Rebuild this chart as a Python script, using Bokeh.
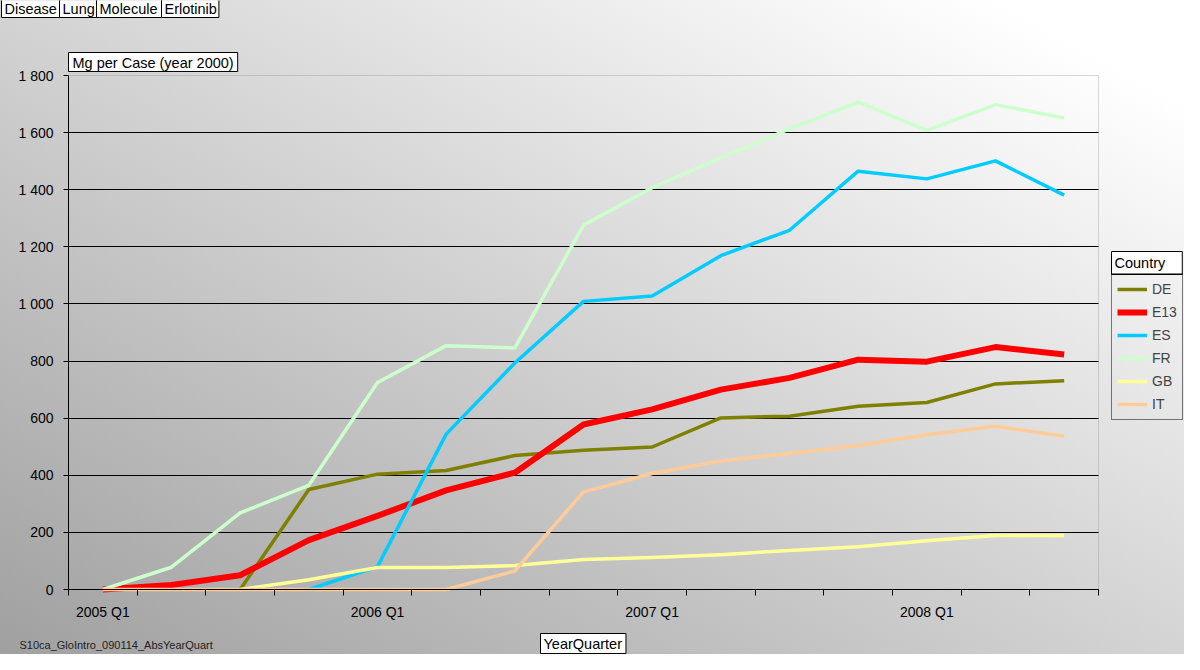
import numpy as np
from bokeh.plotting import figure
from bokeh.models import (ColumnDataSource, FixedTicker, Legend, LegendItem,
                          Label, Range1d, LinearAxis, Grid, BoxAnnotation)
from bokeh.embed import file_html
from bokeh.resources import INLINE

nan = float("nan")

# ---------------- data ----------------
quarters = ["2005 Q1", "2005 Q2", "2005 Q3", "2005 Q4",
            "2006 Q1", "2006 Q2", "2006 Q3", "2006 Q4",
            "2007 Q1", "2007 Q2", "2007 Q3", "2007 Q4",
            "2008 Q1", "2008 Q2", "2008 Q3"]

DE = [nan, nan, 0, 350, 404, 417, 469, 488, 499, 601, 607, 642, 655, 720, 731]
E13 = [0, 16, 50, 173, 258, 347, 409, 578, 631, 700, 741, 805, 798, 849, 823]
ES = [nan, nan, nan, 0, 80, 544, 793, 1009, 1028, 1169, 1258, 1465, 1438, 1501, 1381]
FR = [0, 78, 268, 365, 725, 854, 846, 1276, 1407, 1512, 1613, 1707, 1608, 1698, 1651]
GB = [nan, nan, 0, 34, 77, 77, 84, 105, 112, 122, 137, 150, 171, 189, 189]
IT = [0, 0, 0, 0, 0, 0, 65, 342, 406, 450, 476, 504, 542, 572, 537]

series_names = ["DE", "E13", "ES", "FR", "GB", "IT"]
series_values = [DE, E13, ES, FR, GB, IT]

y_ticks = [0, 200, 400, 600, 800, 1000, 1200, 1400, 1600, 1800]
y_tick_labels = ["0", "200", "400", "600", "800", "1 000", "1 200",
                 "1 400", "1 600", "1 800"]

filter_labels = ["Disease", "Lung", "Molecule", "Erlotinib"]
y_title = "Mg per Case (year 2000)"
x_title = "YearQuarter"
legend_title = "Country"
footnote = "S10ca_GloIntro_090114_AbsYearQuart"

# ---------------- styles / layout ----------------
series_colors = {"DE": "#808000", "E13": "#FF0000", "ES": "#00CCFF",
                 "FR": "#CCFFCC", "GB": "#FFFF99", "IT": "#FFCC99"}
series_widths = {"DE": 3.5, "E13": 6, "ES": 3.5, "FR": 3.5, "GB": 3.5, "IT": 3.5}
FONT = "Liberation Sans"

W, H = 1184, 654          # figure size
OX, OY = 8, 8             # page offset of figure
PL, PR, PT, PB = 76, 1106, 83, 597   # plot area on the page (px)
n = len(quarters)
YMAX = y_ticks[-1]


def dx(page_x):
    return -0.5 + (page_x - PL) * n / (PR - PL)


def dy(page_y):
    return (PB - page_y) * YMAX / (PB - PT)


p = figure(width=W, height=H, output_backend="svg", toolbar_location=None,
           tools="", x_axis_location=None, y_axis_location=None,
           x_range=Range1d(dx(OX), dx(OX + W)),
           y_range=Range1d(dy(OY + H), dy(OY)),
           min_border=0, min_border_left=0, min_border_right=0,
           min_border_top=0, min_border_bottom=0)
p.background_fill_color = None
p.border_fill_color = None
p.outline_line_color = None
p.styles = {"background": "linear-gradient(to top right, #a0a0a0 0%, #ffffff 92%)"}
p.xgrid.visible = False
p.ygrid.visible = False

# plot-area border
p.add_layout(BoxAnnotation(left=-0.5, right=n - 0.5, bottom=0, top=YMAX,
                           fill_alpha=0, line_color="#808080", line_width=1,
                           level="underlay"))

# horizontal gridlines limited to the plot area
if "cross_bounds" in Grid.properties():
    g = Grid(dimension=1, ticker=FixedTicker(ticks=y_ticks[:-1]), bounds=(0, YMAX),
             cross_bounds=(-0.5, n - 0.5), grid_line_color="black",
             grid_line_width=1)
    p.add_layout(g)
else:
    p.segment(x0=[-0.5] * (len(y_ticks) - 1), x1=[n - 0.5] * (len(y_ticks) - 1),
              y0=y_ticks[:-1], y1=y_ticks[:-1], line_color="black", line_width=1)

# axes fixed at the plot-area edges
xax = LinearAxis(fixed_location=0, bounds=(-0.5, n - 0.5),
                 ticker=FixedTicker(ticks=list(range(0, n, 4)),
                                    minor_ticks=[i - 0.5 for i in range(n + 1)]))
xax.major_label_overrides = {i: quarters[i] for i in range(0, n, 4)}
xax.major_tick_line_color = None
xax.minor_tick_line_color = "black"
xax.minor_tick_out = 6
xax.minor_tick_in = 0
xax.major_label_standoff = 8

yax = LinearAxis(fixed_location=-0.5, bounds=(0, YMAX),
                 ticker=FixedTicker(ticks=y_ticks))
yax.major_label_overrides = {float(t): l for t, l in zip(y_ticks, y_tick_labels)}
yax.major_tick_out = 5
yax.major_tick_in = 0
yax.minor_tick_line_color = None
yax.major_label_standoff = 10

for ax in (xax, yax):
    ax.axis_line_color = "black"
    ax.major_label_text_font = FONT
    ax.major_label_text_font_size = "14px"
    ax.major_label_text_color = "black"
p.add_layout(xax, "below")
p.add_layout(yax, "left")

# lines
x = list(range(n))
items = []
for name, vals in zip(series_names, series_values):
    src = ColumnDataSource(dict(x=x, y=np.array(vals, dtype=float)))
    r = p.line("x", "y", source=src, line_color=series_colors[name],
               line_width=series_widths[name], line_join="round")
    items.append(LegendItem(label=name, renderers=[r]))

legend = Legend(items=items, location=(1119 - OX, OY + H - 428),
                orientation="vertical", border_line_color="black",
                border_line_width=1, background_fill_alpha=0,
                label_text_font=FONT, label_text_font_size="14px",
                glyph_width=30, glyph_height=20, label_height=20, spacing=3,
                padding=5, margin=0, label_standoff=5)
p.add_layout(legend)


def box(text, left, top, pad, size="14.5px"):
    l, r, t, b = pad
    return Label(x=dx(left), y=dy(top), text=text,
                 text_align="left", text_baseline="top",
                 text_font=FONT, text_font_size=size, text_color="black",
                 background_fill_color="white", border_line_color="black",
                 border_line_width=1,
                 padding=dict(left=l, right=r, top=t, bottom=b))


lefts = [9, 67, 104, 169]
pads = [(3, 3, 1, 1), (3, 2, 1, 1), (3, 4, 1, 1), (3, 2, 1, 1)]
for txt, lf, pd in zip(filter_labels, lefts, pads):
    p.add_layout(box(txt, lf, 7, pd))

p.add_layout(box(y_title, 76, 60, (4, 4, 2, 1)))
p.add_layout(box(x_title, 548, 641, (3, 4, 2, 2)))
p.add_layout(box(legend_title, 1119, 259, (3, 17, 3, 4)))

p.add_layout(Label(x=dx(27), y=dy(652), text=footnote, text_align="left",
                   text_baseline="middle", text_font=FONT,
                   text_font_size="11px", text_color="#222222"))

open("out.html", "w").write(file_html(p, INLINE))
